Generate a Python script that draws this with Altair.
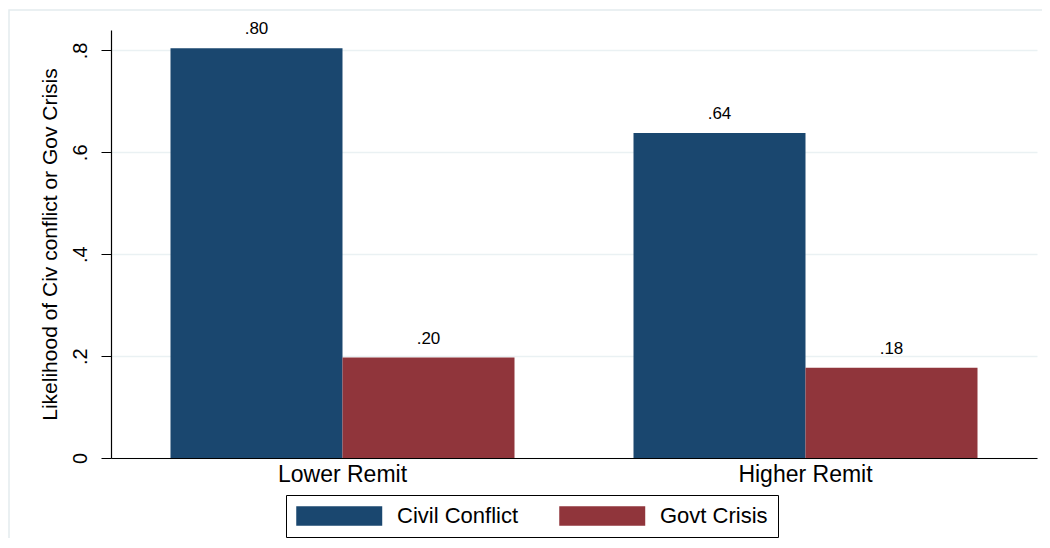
import altair as alt
import pandas as pd

# ---- data ----
groups = ["Lower Remit", "Higher Remit"]
series = ["Civil Conflict", "Govt Crisis"]
civil_conflict = [0.804, 0.638]
govt_crisis = [0.197, 0.177]
y_ticks = [0, 0.2, 0.4, 0.6, 0.8]
colors = ["#1a476f", "#90353b"]

rows = []
for g, c, v in zip(groups, civil_conflict, govt_crisis):
    for s, val in ((series[0], c), (series[1], v)):
        rows.append({"remit": g, "series": s, "value": val,
                     "label": f"{val:.2f}".lstrip("0")})
df = pd.DataFrame(rows)

FONT = "Liberation Sans"

base = alt.Chart(df).encode(
    x=alt.X("remit:N", sort=groups, title="",
            scale=alt.Scale(paddingInner=0.257, paddingOuter=0.1285),
            axis=alt.Axis(labelAngle=0, ticks=False, labelFontSize=23,
                          labelFont=FONT, labelColor="black", labelPadding=5,
                          domainColor="black", domainWidth=1.2, grid=False)),
    xOffset=alt.XOffset("series:N", sort=series,
                        scale=alt.Scale(paddingInner=0, paddingOuter=0)),
    y=alt.Y("value:Q", title="Likelihood of Civ conflict or Gov Crisis",
            scale=alt.Scale(domain=[0, 0.84], nice=False, zero=True),
            axis=alt.Axis(values=y_ticks, grid=True, gridColor="#eaf1f3",
                          gridWidth=1.5, tickSize=10, tickColor="black",
                          domainColor="black", domainWidth=1.2,
                          labelAngle=270, labelAlign="center",
                          labelBaseline="bottom", labelFontSize=20,
                          labelFont=FONT, labelColor="black", labelPadding=11,
                          labelExpr="datum.value == 0 ? '0' : replace(format(datum.value, '.1f'), '0.', '.')",
                          titleFont=FONT, titleFontSize=21, titleFontWeight="normal",
                          titleColor="black", titlePadding=10)),
)

bars = base.mark_bar(size=172).encode(
    color=alt.Color("series:N", sort=series,
                    scale=alt.Scale(domain=series, range=colors),
                    legend=alt.Legend(
                        title="", orient="none", direction="horizontal",
                        legendX=175, legendY=465,
                        symbolType="M-1,-0.9H7V0.9H-1Z", symbolSize=462,
                        symbolStrokeWidth=0, symbolOpacity=1,
                        labelOffset=79, labelFont=FONT, labelFontSize=22,
                        labelColor="black", columnPadding=40,
                        padding=10, strokeColor="black", fillColor="white",
                    )),
)

labels = base.mark_text(dy=-14, fontSize=17, font=FONT, color="black",
                        baseline="alphabetic").encode(text="label:N")

frame = alt.Chart(alt.Data(values=[{}])).mark_rect(
    fillOpacity=0, stroke="#e4ebee", strokeWidth=1.5
).encode(x=alt.value(-102), x2=alt.value(960), y=alt.value(-20), y2=alt.value(560))

chart = alt.layer(frame, bars, labels).properties(
    width=926, height=428,
    autosize=alt.AutoSizeParams(type="none"),
    padding={"left": 103, "top": 22, "right": 5, "bottom": 80},
    background="white",
).configure_view(stroke=None)

chart.save("out.html", embed_options={"renderer": "svg", "actions": False})
